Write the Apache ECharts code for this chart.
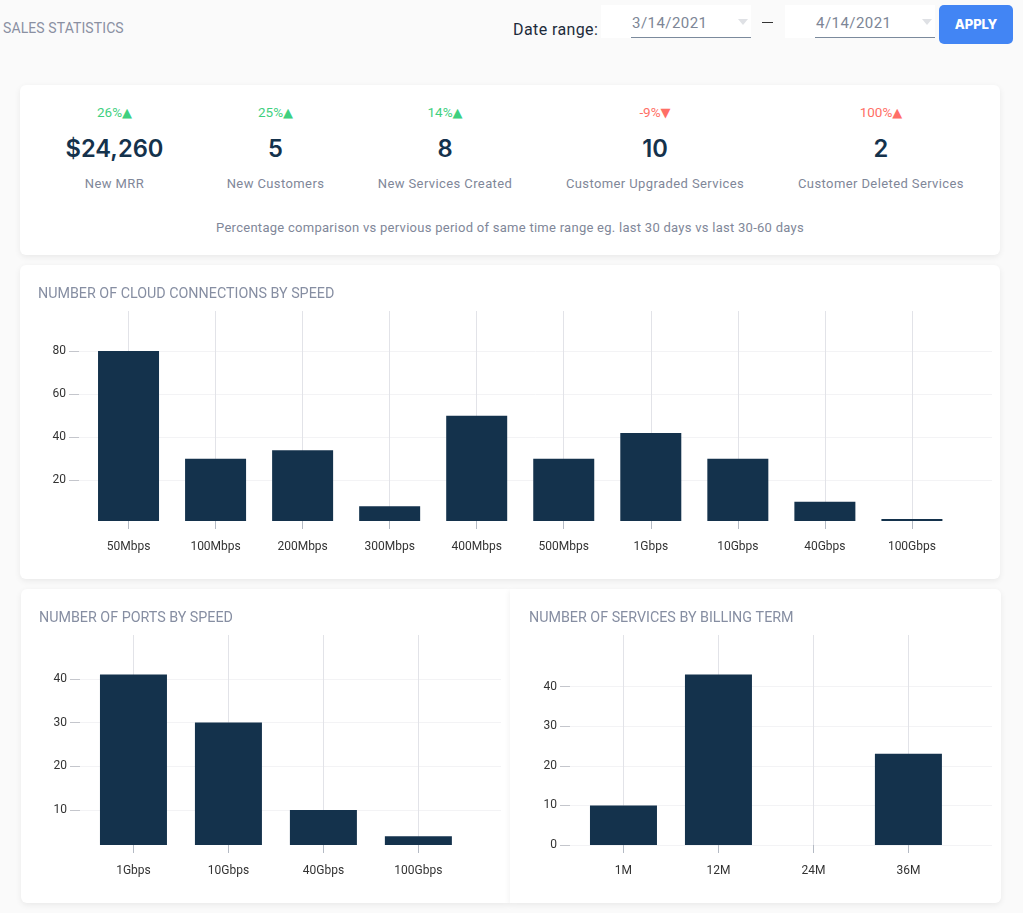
<!DOCTYPE html>
<html>
<head>
<meta charset="utf-8">
<title>Sales statistics</title>
<script src="https://cdn.jsdelivr.net/npm/echarts@6/dist/echarts.min.js"></script>
<style>
  html, body { margin: 0; padding: 0; }
  body { width: 1023px; height: 913px; background: #fafafa; position: relative; overflow: hidden; font-family: Inter, Roboto, sans-serif; }
  .abs { position: absolute; }
  .card { position: absolute; background: #fff; border-radius: 6px; box-shadow: 0 2px 6px rgba(0, 0, 0, .07); }
  #page-title { left: 3px; top: 20px; font: 14px Roboto, sans-serif; color: #8a90a2; letter-spacing: .1px; }
  #range-label { left: 513px; top: 20px; font: 16px Roboto, sans-serif; color: #1d2b3a; letter-spacing: .4px; }
  .date { position: absolute; top: 5px; width: 150px; height: 33px; background: #fff; }
  .date span { position: absolute; left: 30px; top: 9px; width: 120px; height: 23px; border-bottom: 1px solid #7b8a9c; font: 15px Roboto, sans-serif; color: #7d8696; letter-spacing: .45px; text-indent: 1px; }
  .date i { position: absolute; left: 137px; top: 14px; border: 5px solid transparent; border-top: 6px solid #dfe1e5; }
  #dash { left: 762px; top: 22px; width: 11px; height: 1px; background: #333; }
  #apply { left: 939px; top: 5px; width: 74px; height: 39px; text-align: center; border-radius: 5px; background: #4285f4; color: #fff; font: 800 13px/39px Inter, sans-serif; }
  .kpi { position: absolute; top: 0; width: 240px; margin-left: -120px; text-align: center; }
  .kpi .pct { position: absolute; top: 19px; width: 100%; font: 13.5px Roboto, sans-serif; }
  .kpi .val { position: absolute; top: 49px; width: 100%; font: 600 23.7px Inter, sans-serif; color: #14324c; }
  .kpi .lbl { position: absolute; top: 91px; width: 100%; font: 13px Roboto, sans-serif; color: #7f8799; letter-spacing: .4px; }
  #note { left: 0; width: 980px; top: 135px; text-align: center; font: 13px Roboto, sans-serif; color: #7f8799; letter-spacing: .27px; }
</style>
</head>
<body>
<div class="abs" id="page-title">SALES STATISTICS</div>
<div class="abs" id="range-label">Date range:</div>
<div class="date" style="left:601px"><span id="date-from"></span><i></i></div>
<div class="abs" id="dash"></div>
<div class="date" style="left:785px"><span id="date-to"></span><i></i></div>
<div class="abs" id="apply">APPLY</div>

<div class="card" id="kpis" style="left:20px;top:85px;width:980px;height:170px">
  <div class="abs" id="note"></div>
</div>
<div class="card" id="chart-cloud" style="left:20px;top:265px;width:980px;height:314px"></div>
<div class="card" id="chart-ports" style="left:21px;top:589px;width:489px;height:314px;border-radius:6px 0 0 6px"></div>
<div class="card" id="chart-term" style="left:510px;top:589px;width:491px;height:314px;border-radius:0 6px 6px 0"></div>

<script>
const dateFrom = '3/14/2021';
const dateTo = '4/14/2021';
const noteText = 'Percentage comparison vs pervious period of same time range eg. last 30 days vs last 30-60 days';

const kpiChanges = ['26%', '25%', '14%', '-9%', '100%'];
const kpiArrows = ['▲', '▲', '▲', '▼', '▲'];
const kpiColors = ['#3fd07f', '#3fd07f', '#3fd07f', '#ff6f66', '#ff6f66'];
const kpiValues = ['$24,260', '5', '8', '10', '2'];
const kpiLabels = ['New MRR', 'New Customers', 'New Services Created', 'Customer Upgraded Services', 'Customer Deleted Services'];
const kpiCenters = [94.5, 255.5, 425, 635, 861];

const cloudSpeeds = ['50Mbps', '100Mbps', '200Mbps', '300Mbps', '400Mbps', '500Mbps', '1Gbps', '10Gbps', '40Gbps', '100Gbps'];
const cloudCounts = [80, 30, 34, 8, 50, 30, 42, 30, 10, 2];
const cloudTicks = [20, 40, 60, 80];

const portSpeeds = ['1Gbps', '10Gbps', '40Gbps', '100Gbps'];
const portCounts = [41, 30, 10, 4];
const portTicks = [10, 20, 30, 40];

const billingTerms = ['1M', '12M', '24M', '36M'];
const termCounts = [10, 43, 0, 23];
const termTicks = [0, 10, 20, 30, 40];

document.getElementById('date-from').textContent = dateFrom;
document.getElementById('date-to').textContent = dateTo;
document.getElementById('note').textContent = noteText;

// kpi 卡片
const kpiBox = document.getElementById('kpis');
kpiValues.forEach((val, i) => {
	let el = document.createElement('div');
	el.className = 'kpi';
	el.style.left = kpiCenters[i] + 'px';
	el.innerHTML = `<div class="pct" style="color:${kpiColors[i]}">${kpiChanges[i]}<span style="font-family:'DejaVu Sans';font-size:13px">${kpiArrows[i]}</span></div>
		<div class="val">${val}</div>
		<div class="lbl">${kpiLabels[i]}</div>`;
	kpiBox.appendChild(el);
});

function drawBars(elementId, { title, titleLeft, names, values, yTicks, yMin, yMax, xMin, xMax, barWidth, gridLeft, gridRight }) {
	let echart = echarts.init(document.getElementById(elementId));
	let indexes = names.map((n, i) => i);
	echart.setOption({
		animation: false,
		title: {
			text: title,
			left: titleLeft,
			top: 17,
			textStyle: { color: '#868ea2', fontSize: 14.3, fontWeight: 'normal', fontFamily: 'Roboto' }
		},
		grid: { left: gridLeft, right: gridRight, top: 46, bottom: 58 },
		// 柱子不占满轴，所以用数值轴放下标，标签再换回名称
		xAxis: {
			type: 'value',
			min: xMin,
			max: xMax,
			position: 'bottom',
			// 轴线透明：隐藏轴线时刻度也不画
			axisLine: { show: true, onZero: false, lineStyle: { color: 'rgba(0,0,0,0)' } },
			axisTick: { show: true, length: 8, customValues: indexes, lineStyle: { color: '#b4bac4' } },
			axisLabel: {
				customValues: indexes,
				margin: 20,
				color: '#333',
				fontFamily: 'Roboto',
				fontSize: 12,
				formatter: v => names[v]
			},
			splitLine: { show: true, lineStyle: { color: '#e2e3e8' } }
		},
		yAxis: {
			type: 'value',
			min: yMin,
			max: yMax,
			axisLine: { show: false, onZero: false },
			axisTick: { show: true, length: 10, customValues: yTicks, lineStyle: { color: '#c4c6cc' } },
			axisLabel: {
				customValues: yTicks,
				margin: 13,
				padding: [2, 0, 0, 0],
				color: '#333',
				fontFamily: 'Roboto',
				fontSize: 12
			},
			splitLine: { show: true, lineStyle: { color: '#f3f3f5' } }
		},
		series: [{
			type: 'bar',
			barWidth: barWidth,
			itemStyle: { color: '#14324c' },
			data: values.map((v, i) => [i, v])
		}]
	});
}

drawBars('chart-cloud', {
	title: 'NUMBER OF CLOUD CONNECTIONS BY SPEED',
	titleLeft: 13,
	names: cloudSpeeds,
	values: cloudCounts,
	yTicks: cloudTicks,
	yMin: 1.1,
	yMax: 98.6,
	xMin: -0.569,
	xMax: 9.92,
	barWidth: 61,
	gridLeft: 59,
	gridRight: 8
});

drawBars('chart-ports', {
	title: 'NUMBER OF PORTS BY SPEED',
	titleLeft: 13,
	names: portSpeeds,
	values: portCounts,
	yTicks: portTicks,
	yMin: 2,
	yMax: 50,
	xMin: -0.563,
	xMax: 3.87,
	barWidth: 67,
	gridLeft: 59,
	gridRight: 9
});

drawBars('chart-term', {
	title: 'NUMBER OF SERVICES BY BILLING TERM',
	titleLeft: 14,
	names: billingTerms,
	values: termCounts,
	yTicks: termTicks,
	yMin: 0,
	yMax: 53,
	xMin: -0.563,
	xMax: 3.88,
	barWidth: 67,
	gridLeft: 60,
	gridRight: 9
});
</script>
</body>
</html>
